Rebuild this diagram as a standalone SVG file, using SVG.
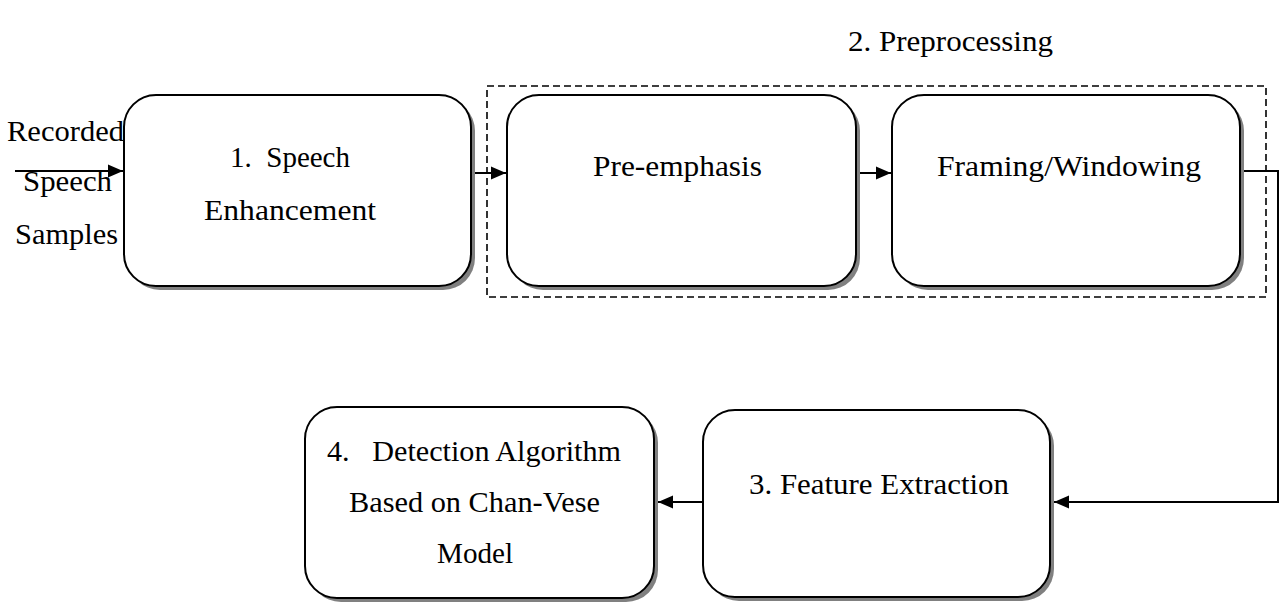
<svg xmlns="http://www.w3.org/2000/svg" width="1283" height="605" viewBox="0 0 1283 605">
<defs>
<style>
.box{fill:#fff;stroke:#000;stroke-width:2}
.shadow{fill:#808080;stroke:none}
.t{font-family:"Liberation Serif","Times New Roman",serif;font-size:29px;fill:#000;text-anchor:middle;white-space:pre}
.c{fill:none;stroke:#000;stroke-width:2}
.dash{fill:none;stroke:#000;stroke-width:1.6;stroke-dasharray:7 4}
</style>
<marker id="arr" markerUnits="userSpaceOnUse" markerWidth="16" markerHeight="16" viewBox="0 0 16 16" refX="15" refY="8" orient="auto">
<path d="M0,1.5 L15,8 L0,14.5 Z" fill="#000"/>
</marker>
</defs>
<rect width="1283" height="605" fill="#fff"/>
<g id="preprocessing-group">
<rect class="dash" x="487" y="86" width="779" height="211"/>
<text class="t" x="950.5" y="51" textLength="205" lengthAdjust="spacingAndGlyphs">2. Preprocessing</text>
</g>
<g id="input-label">
<text class="t" x="65.5" y="141" textLength="117" lengthAdjust="spacingAndGlyphs">Recorded</text>
<text class="t" x="67.5" y="191" textLength="89" lengthAdjust="spacingAndGlyphs">Speech</text>
<text class="t" x="66.5" y="244" textLength="103" lengthAdjust="spacingAndGlyphs">Samples</text>
</g>
<g id="n1">
<rect class="shadow" x="128" y="99" width="347" height="191" rx="32"/>
<rect class="box" x="124" y="95" width="347" height="191" rx="32"/>
<text class="t" x="290" y="167" textLength="120" lengthAdjust="spacingAndGlyphs" xml:space="preserve">1.  Speech</text>
<text class="t" x="290" y="220" textLength="172" lengthAdjust="spacingAndGlyphs">Enhancement</text>
</g>
<g id="n2a">
<rect class="shadow" x="511" y="99" width="349" height="191" rx="32"/>
<rect class="box" x="507" y="95" width="349" height="191" rx="32"/>
<text class="t" x="677.5" y="176" textLength="169" lengthAdjust="spacingAndGlyphs">Pre-emphasis</text>
</g>
<g id="n2b">
<rect class="shadow" x="896" y="99" width="348" height="191" rx="32"/>
<rect class="box" x="892" y="95" width="348" height="191" rx="32"/>
<text class="t" x="1069" y="176" textLength="264" lengthAdjust="spacingAndGlyphs">Framing/Windowing</text>
</g>
<g id="n3">
<rect class="shadow" x="707" y="414" width="347" height="187" rx="32"/>
<rect class="box" x="703" y="410" width="347" height="187" rx="32"/>
<text class="t" x="879" y="494" textLength="260" lengthAdjust="spacingAndGlyphs">3. Feature Extraction</text>
</g>
<g id="n4">
<rect class="shadow" x="309" y="411" width="349" height="191" rx="32"/>
<rect class="box" x="305" y="407" width="349" height="191" rx="32"/>
<text class="t" x="474" y="461" textLength="294" lengthAdjust="spacingAndGlyphs" xml:space="preserve">4.   Detection Algorithm</text>
<text class="t" x="474.5" y="512" textLength="251" lengthAdjust="spacingAndGlyphs">Based on Chan-Vese</text>
<text class="t" x="475" y="563" textLength="76" lengthAdjust="spacingAndGlyphs">Model</text>
</g>
<g id="connectors">
<path class="c" d="M15,171 H123" marker-end="url(#arr)"/>
<path class="c" d="M475,173 H506" marker-end="url(#arr)"/>
<path class="c" d="M860,173 H891" marker-end="url(#arr)"/>
<path class="c" d="M1244,171 H1278 V502 H1054" marker-end="url(#arr)"/>
<path class="c" d="M703,502 H658" marker-end="url(#arr)"/>
</g>
</svg>
